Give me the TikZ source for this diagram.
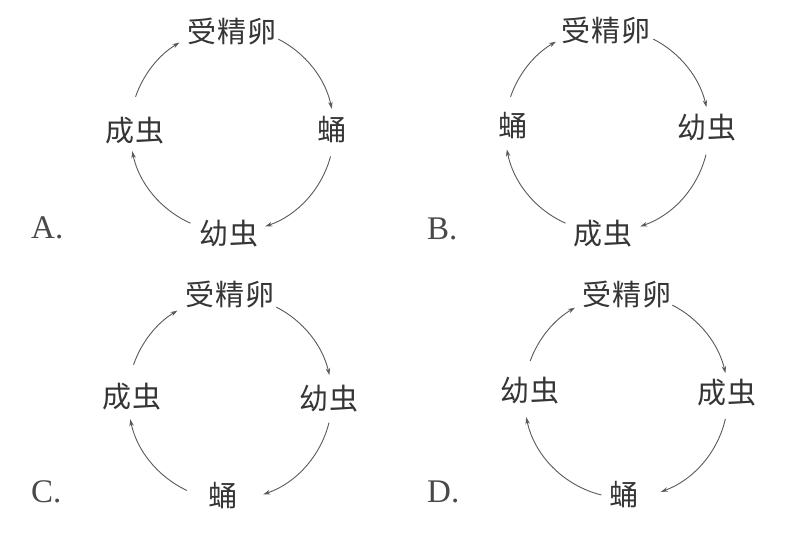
\documentclass[tikz,border=0pt]{standalone}
\usepackage{fontspec}
\newfontfamily\cjk{Noto Sans CJK SC}[LetterSpace=5]
\newfontfamily\lat{Liberation Serif}
\usetikzlibrary{arrows.meta}
\definecolor{ink}{HTML}{353535}
\definecolor{arcc}{HTML}{5A5A5A}
\tikzset{
  stage/.style={font=\cjk\fontsize{29}{29}\selectfont, text=ink, inner sep=0pt},
  optlabel/.style={font=\lat\fontsize{33}{33}\selectfont, text=ink!90, inner sep=0pt, anchor=base west},
  cyclearrow/.style={draw=arcc, line width=0.9pt, -{Stealth[length=7pt,width=4.5pt]}}
}
% arc around centre #1 with radius #2 from angle #3 to angle #4
\newcommand\cycarc[4]{\draw[cyclearrow] ([shift={(#3:#2)}]#1) arc[start angle=#3, end angle=#4, radius=#2];}
\begin{document}
\begin{tikzpicture}[x=1pt,y=1pt]
\useasboundingbox (0,0) rectangle (796,-537);
\fill[white] (0,0) rectangle (796,-537);
% ---------- A ----------
\coordinate (cA) at (232,-130);
\node[stage] (A1) at (232,-32) {受精卵};
\node[stage] (A2) at (332,-130) {蛹};
\node[stage] (A3) at (229,-234) {幼虫};
\node[stage] (A4) at (135,-131) {成虫};
\node[optlabel] (LA) at (31,-239) {A.};
\cycarc{cA}{102}{63}{12}
\cycarc{cA}{102}{-15}{-71}
\cycarc{cA}{102}{-114}{-168}
\cycarc{cA}{102}{161}{121}
% ---------- B ----------
\coordinate (cB) at (607,-130);
\node[stage] (B1) at (606,-31) {受精卵};
\node[stage] (B2) at (707,-128) {幼虫};
\node[stage] (B3) at (603,-234) {成虫};
\node[stage] (B4) at (513,-126) {蛹};
\node[optlabel] (LB) at (427,-240) {B.};
\cycarc{cB}{102}{63}{13}
\cycarc{cB}{102}{-14}{-71}
\cycarc{cB}{102}{-114}{-169}
\cycarc{cB}{102}{161}{120}
% ---------- C ----------
\coordinate (cC) at (230,-398);
\node[stage] (C1) at (230,-295) {受精卵};
\node[stage] (C2) at (329,-399) {幼虫};
\node[stage] (C3) at (223,-496) {蛹};
\node[stage] (C4) at (132,-397) {成虫};
\node[optlabel] (LC) at (31,-502) {C.};
\cycarc{cC}{102}{63}{13}
\cycarc{cC}{102}{-14}{-71}
\cycarc{cC}{102}{-115}{-168}
\cycarc{cC}{102}{161}{121}
% ---------- D ----------
\coordinate (cD) at (626,-396);
\node[stage] (D1) at (627,-295) {受精卵};
\node[stage] (D2) at (727,-393) {成虫};
\node[stage] (D3) at (624,-495) {蛹};
\node[stage] (D4) at (530,-391) {幼虫};
\node[optlabel] (LD) at (427,-502) {D.};
\cycarc{cD}{102}{63}{13}
\cycarc{cD}{102}{-13}{-70}
\cycarc{cD}{102}{-104}{-168}
\cycarc{cD}{102}{160}{120}
\end{tikzpicture}
\end{document}
